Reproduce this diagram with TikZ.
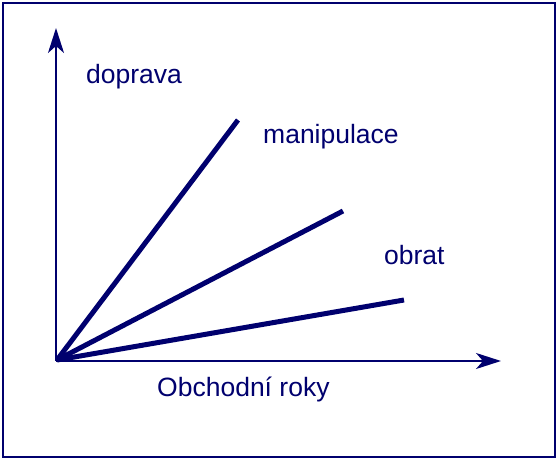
\documentclass[tikz,border=0pt]{standalone}
\usepackage{fontspec}
\setmainfont{Liberation Sans}
\usetikzlibrary{arrows.meta}
\definecolor{navy}{RGB}{0,0,110}
\begin{document}
\begin{tikzpicture}[x=1pt,y=-1pt,
  frame/.style={draw=navy,line width=2pt},
  axis/.style={draw=navy,line width=2pt,-{Stealth[length=25pt,width=16pt,inset=7pt]}},
  series/.style={draw=navy,line width=5pt},
  lbl/.style={text=navy,font=\fontsize{26.5pt}{30pt}\selectfont,inner sep=0pt,anchor=base west}]
\useasboundingbox (0,0) rectangle (558,460);
\draw[frame] (3,3) rectangle (555,457);
% axes
\coordinate (o) at (56,361);
\coordinate (ytop) at (56,28);
\coordinate (xend) at (501,361);
\draw[axis] (o) -- (ytop);
\draw[axis] (o) -- (xend);
% series lines
\coordinate (s0) at (57,360);
\coordinate (e1) at (238,120);
\coordinate (e2) at (343,211);
\coordinate (e3) at (404,300);
\draw[series] (s0) -- (e1);
\draw[series] (s0) -- (e2);
\draw[series] (s0) -- (e3);
% labels
\node[lbl] (ldoprava) at (86,84) {doprava};
\node[lbl] (lmanip) at (263,144) {manipulace};
\node[lbl] (lobrat) at (384,264) {obrat};
\node[lbl] (lroky) at (157,396) {Obchodní roky};
\end{tikzpicture}
\end{document}
